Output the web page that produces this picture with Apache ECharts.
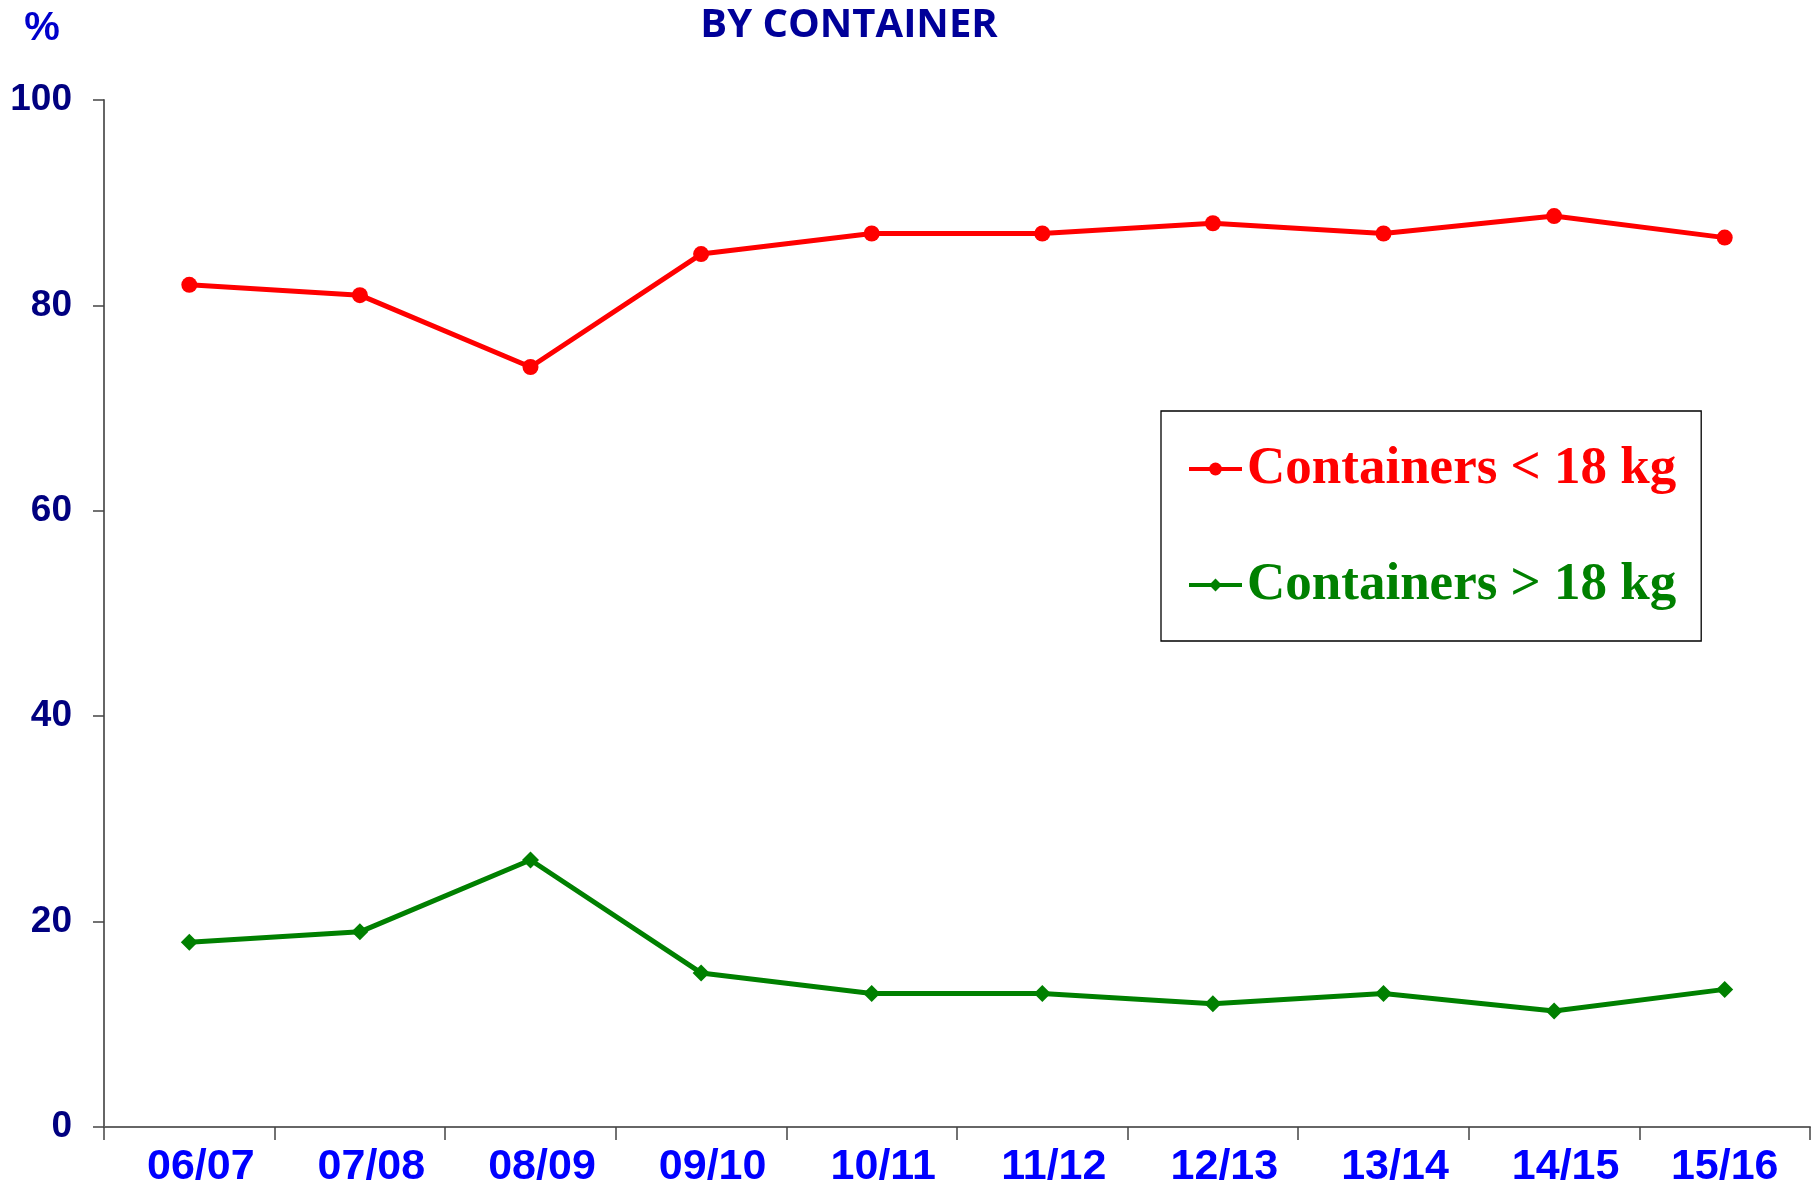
<!DOCTYPE html>
<html>
<head>
<meta charset="utf-8">
<script src="https://cdn.jsdelivr.net/npm/echarts@6/dist/echarts.min.js"></script>
<style>
  html, body { margin: 0; padding: 0; background: #fff; }
  #main { width: 1812px; height: 1188px; }
</style>
</head>
<body>
<div id="main"></div>
<script>
const seasons = ['06/07', '07/08', '08/09', '09/10', '10/11', '11/12', '12/13', '13/14', '14/15', '15/16'];
const under18 = [82, 81, 74, 85, 87, 87, 88, 87, 88.7, 86.6];
const over18 = [18, 19, 26, 15, 13, 13, 12, 13, 11.3, 13.4];
const yTicks = [0, 20, 40, 60, 80, 100];

const chart = echarts.init(document.getElementById('main'));

// labels sit a bit right of the category centre, except the last one
const xData = seasons.map(function (s, i) {
  return {
    value: s,
    textStyle: { padding: i === seasons.length - 1 ? [0, 0, 0, 0] : [0, 0, 0, 23] }
  };
});

const option = {
  animation: false,
  backgroundColor: '#fff',
  graphic: [
    {
      type: 'text',
      x: 849,
      y: 6,
      style: {
        text: 'BY CONTAINER',
        font: 'bold 40px "Open Sans"',
        fill: '#000099',
        textAlign: 'center'
      }
    },
    {
      type: 'text',
      x: 42,
      y: 9,
      style: {
        text: '%',
        font: 'bold 40px "Liberation Sans"',
        fill: '#0000cc',
        textAlign: 'center'
      }
    }
  ],
  grid: {
    left: 104,
    right: 2,
    top: 100,
    bottom: 61,
    containLabel: false,
    outerBoundsMode: 'none'
  },
  legend: {
    orient: 'vertical',
    left: 1161,
    top: 411,
    padding: [28, 25, 26, 26],
    itemGap: 56,
    itemWidth: 53,
    itemHeight: 16,
    borderColor: '#000',
    borderWidth: 1.3,
    lineStyle: { width: 4 },
    textStyle: {
      fontFamily: 'Liberation Serif',
      fontWeight: 'bold',
      fontSize: 53,
      lineHeight: 60
    },
    data: [
      { name: 'Containers < 18 kg', textStyle: { color: '#ff0000' } },
      { name: 'Containers > 18 kg', textStyle: { color: '#008000' } }
    ]
  },
  xAxis: {
    type: 'category',
    data: xData,
    boundaryGap: true,
    axisLine: { lineStyle: { color: '#666', width: 2 } },
    axisTick: { show: true, length: 13, lineStyle: { color: '#444', width: 1.5 } },
    axisLabel: {
      margin: 19,
      color: '#0000ff',
      fontFamily: 'Liberation Sans',
      fontWeight: 'bold',
      fontSize: 43,
      interval: 0
    },
    splitLine: { show: false }
  },
  yAxis: {
    type: 'value',
    min: yTicks[0],
    max: yTicks[yTicks.length - 1],
    interval: yTicks[1] - yTicks[0],
    axisLine: { show: true, lineStyle: { color: '#666', width: 2 } },
    axisTick: { show: true, length: 11, lineStyle: { color: '#444', width: 1.5 } },
    axisLabel: {
      margin: 32,
      color: '#000080',
      fontFamily: 'Liberation Sans',
      fontWeight: 'bold',
      fontSize: 37
    },
    splitLine: { show: false }
  },
  series: [
    {
      name: 'Containers < 18 kg',
      type: 'line',
      data: under18,
      color: '#ff0000',
      symbol: 'circle',
      symbolSize: 16,
      lineStyle: { width: 5, color: '#ff0000' },
      itemStyle: { color: '#ff0000' }
    },
    {
      name: 'Containers > 18 kg',
      type: 'line',
      data: over18,
      color: '#008000',
      symbol: 'diamond',
      symbolSize: 17,
      lineStyle: { width: 5, color: '#008000' },
      itemStyle: { color: '#008000' }
    }
  ]
};

chart.setOption(option);
</script>
</body>
</html>
